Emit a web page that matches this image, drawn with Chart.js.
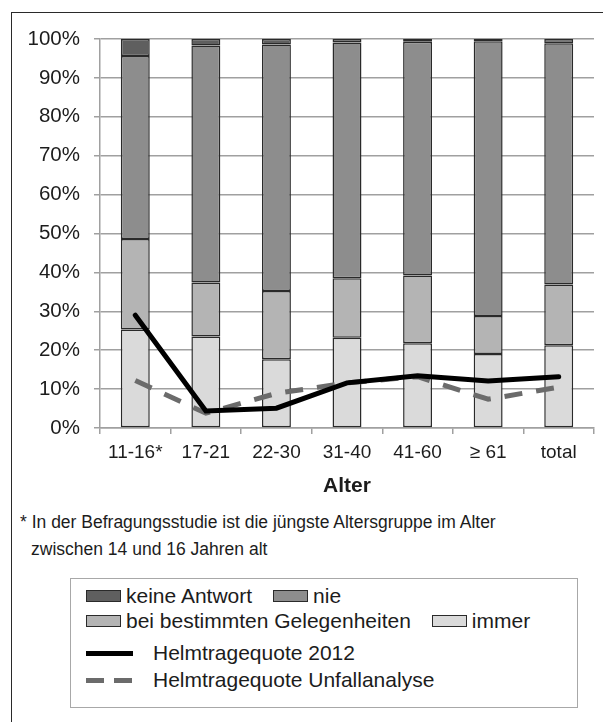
<!DOCTYPE html>
<html>
<head>
<meta charset="utf-8">
<script src="https://cdn.jsdelivr.net/npm/chart.js@4.4.0/dist/chart.umd.min.js"></script>
<style>
  html, body { margin: 0; padding: 0; background: #fff; overflow: hidden; }
  body { width: 603px; height: 722px; position: relative; font-family: "Liberation Sans", Arial, sans-serif; color: #1c1c1c; }
  #frame { position: absolute; left: 11px; top: 12px; width: 700px; height: 800px; border: 1.5px solid #2a2a2a; }
  #chartBox { position: absolute; left: 0; top: 0; width: 603px; height: 502px; }
  #note { position: absolute; left: 20px; top: 509px; font-size: 17.5px; line-height: 27px; }
  #note .indent { padding-left: 11px; }
  #legend { position: absolute; left: 70px; top: 578px; width: 508px; height: 130px; border: 1.5px solid #a8a8a8; box-sizing: border-box; font-size: 21px; }
  .row { position: absolute; left: 15px; display: flex; align-items: center; height: 24px; white-space: nowrap; }
  .item { display: flex; align-items: center; margin-right: 21px; }
  .swatch { width: 33px; height: 10px; border: 1.5px solid #2a2a2a; margin-right: 5px; }
  .lineKey { width: 47px; height: 5px; margin-right: 20px; }
</style>
</head>
<body>
<div id="frame"></div>
<div id="chartBox"><canvas id="chartHelm"></canvas></div>
<div id="note">* In der Befragungsstudie ist die jüngste Altersgruppe im Alter<br><span class="indent">zwischen 14 und 16 Jahren alt</span></div>
<div id="legend"></div>
<script>
const ageGroups = ["11-16*", "17-21", "22-30", "31-40", "41-60", "\u2265 61", "total"]

// Anteile der Antworten in Prozent, je Altersgruppe
const immer = [25.3, 23.5, 17.7, 23.2, 21.8, 19.0, 21.3]
const beiBestimmten = [23.3, 13.9, 17.5, 15.3, 17.4, 9.8, 15.6]
const nie = [47.0, 60.9, 63.4, 60.6, 60.1, 70.6, 62.0]
const keineAntwort = [4.4, 1.7, 1.4, 0.9, 0.7, 0.6, 1.1]

// Helmtragequoten in Prozent
const quote2012 = [29.0, 4.4, 5.1, 11.6, 13.4, 12.1, 13.2]
const quoteUnfall = [12.2, 3.8, 8.9, 11.6, 13.2, 7.4, 10.5]

const yTicks = [0, 10, 20, 30, 40, 50, 60, 70, 80, 90, 100]

const font = "'Liberation Sans', Arial, sans-serif"
const textColor = "#1c1c1c"
const gridColor = "#a0a0a0"

const barStyle = (label, data, color) => ({
    type: "bar",
    label: label,
    data: data,
    backgroundColor: color,
    borderColor: "#2a2a2a",
    borderWidth: 1.5,
    borderSkipped: false,
    barPercentage: 0.41,
    categoryPercentage: 1,
    stack: "umfrage",
    order: 2
})

const chart = new Chart(
    document.getElementById("chartHelm").getContext("2d"),
    {
        data: {
            labels: ageGroups,
            datasets: [
                {
                    type: "line",
                    label: "Helmtragequote 2012",
                    data: quote2012,
                    borderColor: "#000",
                    borderWidth: 5,
                    borderCapStyle: "round",
                    pointRadius: 0,
                    tension: 0,
                    stack: "q2012",
                    order: 0
                },
                {
                    type: "line",
                    label: "Helmtragequote Unfallanalyse",
                    data: quoteUnfall,
                    borderColor: "#6b6b6b",
                    borderWidth: 5,
                    borderDash: [18, 14],
                    borderCapStyle: "butt",
                    pointRadius: 0,
                    tension: 0,
                    stack: "qUnfall",
                    order: 1
                },
                barStyle("immer", immer, "#dadada"),
                barStyle("bei bestimmten Gelegenheiten", beiBestimmten, "#b4b4b4"),
                barStyle("nie", nie, "#8d8d8d"),
                barStyle("keine Antwort", keineAntwort, "#5f5f5f")
            ]
        },
        options: {
            responsive: true,
            maintainAspectRatio: false,
            animation: false,
            layout: { padding: { left: 0, right: 9, top: 39, bottom: 3 } },
            plugins: {
                legend: { display: false },
                tooltip: { enabled: false }
            },
            scales: {
                x: {
                    stacked: true,
                    grid: {
                        offset: true,
                        drawOnChartArea: false,
                        tickLength: 6,
                        color: gridColor,
                        lineWidth: 1.5
                    },
                    border: { color: gridColor, width: 1.5 },
                    ticks: {
                        color: textColor,
                        font: { family: font, size: 19 },
                        padding: 7,
                        maxRotation: 0
                    },
                    title: {
                        display: true,
                        text: "Alter",
                        color: textColor,
                        font: { family: font, size: 21, weight: "bold" },
                        padding: { top: 2, bottom: 0 }
                    },
                    afterFit: scale => { scale.height = 71 }
                },
                y: {
                    stacked: true,
                    min: 0,
                    max: 100,
                    afterBuildTicks: scale => { scale.ticks = yTicks.map(v => ({ value: v })) },
                    grid: {
                        color: gridColor,
                        lineWidth: 1.5,
                        tickLength: 6
                    },
                    border: { color: gridColor, width: 1.5 },
                    ticks: {
                        color: textColor,
                        font: { family: font, size: 20.5 },
                        padding: 14,
                        callback: v => v + "%"
                    },
                    afterFit: scale => { scale.width = 100 }
                }
            }
        }
    }
)

// Legende: zwei Zeilen Flächen, dann die beiden Linien
const legendRows = [
    [["keine Antwort", "#5f5f5f"], ["nie", "#8d8d8d"]],
    [["bei bestimmten Gelegenheiten", "#b4b4b4"], ["immer", "#dadada"]]
]
const legendLines = [
    ["Helmtragequote 2012", "background:#000"],
    ["Helmtragequote Unfallanalyse", "background:repeating-linear-gradient(90deg,#6b6b6b 0 18px,transparent 18px 28px)"]
]
const legendEl = document.getElementById("legend")
const rowTops = [5, 30, 62, 89]
legendRows.forEach((row, i) => {
    const div = document.createElement("div")
    div.className = "row"
    div.style.top = rowTops[i] + "px"
    row.forEach(([label, color]) => {
        div.insertAdjacentHTML("beforeend",
            `<span class="item"><span class="swatch" style="background:${color}"></span>${label}</span>`)
    })
    legendEl.appendChild(div)
})
legendLines.forEach(([label, style], i) => {
    const div = document.createElement("div")
    div.className = "row"
    div.style.top = rowTops[i + 2] + "px"
    div.innerHTML = `<span class="lineKey" style="${style}"></span><span>${label}</span>`
    legendEl.appendChild(div)
})
</script>
</body>
</html>
